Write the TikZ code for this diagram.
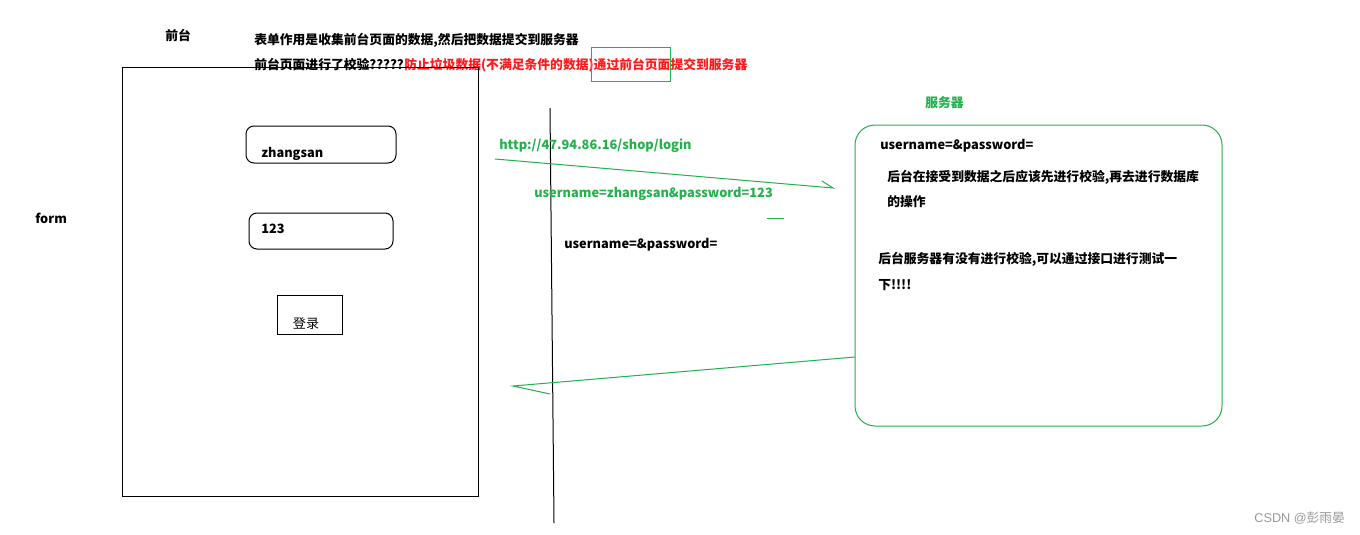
\documentclass[tikz,border=0pt]{standalone}
\usepackage{fontspec}
\setmainfont{Noto Sans CJK SC}
\newfontfamily\wmfont{Liberation Sans}
\newfontfamily\wmcjk{Noto Sans CJK SC}
\definecolor{pgreen}{HTML}{22B14C}
\definecolor{pred}{HTML}{FF1A1A}
\begin{document}
\begin{tikzpicture}[x=0.75pt,y=-0.75pt,
  txt/.style={anchor=west,inner sep=0pt,font=\fontsize{9.6}{12}\selectfont\bfseries},
  gtxt/.style={txt,text=pgreen},
  box/.style={draw=black,line width=0.75pt},
  gline/.style={draw=pgreen,line width=0.75pt}]
\useasboundingbox[fill=white] (0,0) rectangle (1360,535);
% headings
\node[txt] (qt) at (165,35) {前台};
\node[txt] (l1) at (254,40) {表单作用是收集前台页面的数据,然后把数据提交到服务器};
\node[txt] (l2a) at (254,65) {前台页面进行了校验?????};
\node[txt,text=pred,anchor=west] (l2b) at (l2a.east) {防止垃圾数据(不满足条件的数据)通过前台页面提交到服务器};
\node[draw=pgreen,line width=0.75pt,minimum width=79*0.75pt,minimum height=34*0.75pt,inner sep=0pt] (hl) at (630.5,65) {};
% form
\node[txt] (formlbl) at (35,218) {form};
\node[box,minimum width=356*0.75pt,minimum height=428*0.75pt,inner sep=0pt] (form) at (300,282) {};
\node[box,rounded corners=6pt,minimum width=150*0.75pt,minimum height=37*0.75pt,inner sep=0pt] (user) at (321,144.5) {};
\node[txt] (usert) at (261,154) {zhangsan};
\node[box,rounded corners=6pt,minimum width=144*0.75pt,minimum height=36*0.75pt,inner sep=0pt] (pwd) at (321,231) {};
\node[txt] (pwdt) at (261,229) {123};
\node[box,minimum width=65*0.75pt,minimum height=39*0.75pt,inner sep=0pt] (login) at (309.5,314.5) {};
\node[anchor=center,inner sep=0pt,font=\fontsize{9.8}{12}\selectfont] (logint) at (306,324) {登录};
% divider
\coordinate (dtop) at (550,108);
\coordinate (dbot) at (554,523);
\draw[line width=0.75pt] (dtop) -- (dbot);
% request
\node[gtxt] (url) at (499,146) {http://47.94.86.16/shop/login};
\coordinate (rqs) at (495,159);
\coordinate (rqe) at (833,188);
\coordinate (rqh) at (822,181);
\draw[gline] (rqs) -- (rqe) -- (rqh);
\node[gtxt] (params) at (534,194) {username=zhangsan\&password=123};
\coordinate (da) at (767,218);
\coordinate (db) at (784,218);
\draw[gline] (da) -- (db);
\node[txt] (empty) at (564,245) {username=\&password=};
% server
\node[txt,text=pgreen] (srvlbl) at (925,103) {服务器};
\node[draw=pgreen,line width=0.75pt,rounded corners=15pt,minimum width=367*0.75pt,minimum height=301*0.75pt,inner sep=0pt] (srv) at (1038.5,275.5) {};
\node[txt] (s1) at (880,146) {username=\&password=};
\node[txt] (s2) at (887,177) {后台在接受到数据之后应该先进行校验,再去进行数据库};
\node[txt] (s3) at (887,202) {的操作};
\node[txt] (s4) at (878,259) {后台服务器有没有进行校验,可以通过接口进行测试一};
\node[txt] (s5) at (878,285) {下!!!!};
% response
\coordinate (rss) at (855,357);
\coordinate (rse) at (513,386);
\coordinate (rsh) at (550,394);
\draw[gline] (rss) -- (rse) -- (rsh);
% watermark
\node[anchor=east,inner sep=0pt,text=black!40,font=\fontsize{9.5}{11}\selectfont] (wm) at (1345,518) {\wmfont CSDN @\wmcjk 彭雨晏};
\end{tikzpicture}
\end{document}
